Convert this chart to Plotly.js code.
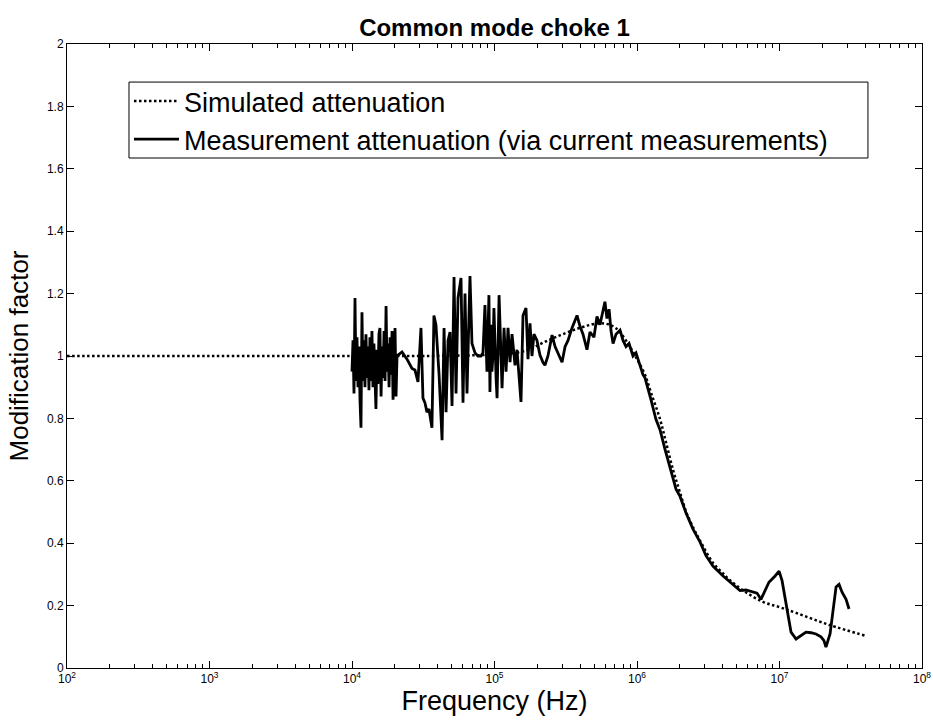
<!DOCTYPE html>
<html>
<head>
<meta charset="utf-8">
<script src="https://cdn.plot.ly/plotly-3.0.1.min.js"></script>
<style>html,body{margin:0;padding:0;background:#fff;}#chart{width:933px;height:724px;}</style>
</head>
<body>
<div id="chart"></div>
<script>
// Simulated attenuation: log10(frequency in Hz) and modification factor
const simLogF = [2.0, 3.0, 4.0, 4.5, 5.0, 5.2, 5.4, 5.6, 5.75, 5.85, 5.95, 6.0, 6.056, 6.1, 6.16, 6.2, 6.253, 6.3, 6.348, 6.4, 6.44, 6.535, 6.6, 6.65, 6.75, 6.884, 7.0, 7.12, 7.35, 7.607];
const simValue = [1.0, 1.0, 1.0, 1.0, 1.005, 1.015, 1.055, 1.09, 1.105, 1.09, 1.03, 0.99, 0.94, 0.88, 0.80, 0.73, 0.635, 0.565, 0.497, 0.445, 0.41, 0.336, 0.305, 0.282, 0.247, 0.212, 0.195, 0.176, 0.138, 0.103];

// Measured attenuation (via current measurements)
const measLogF = [4.000,4.007,4.014,4.021,4.028,4.035,4.042,4.049,4.056,4.063,4.070,4.077,4.084,4.091,4.098,4.105,4.112,4.119,4.126,4.133,4.140,4.147,4.154,4.161,4.168,4.175,4.182,4.189,4.196,4.204,4.211,4.218,4.225,4.232,4.239,4.246,4.253,4.260,4.267,4.274,4.281,4.288,4.295,4.302,4.309,4.316,
4.323,4.351,4.386,4.421,4.442,4.463,4.484,4.498,4.512,4.526,4.540,4.561,4.575,4.589,4.611,4.632,4.646,4.660,4.674,4.688,4.702,4.716,4.730,4.744,4.765,4.779,4.793,4.807,4.828,4.842,4.863,4.884,4.905,4.919,4.933,4.947,4.961,4.968,4.975,4.982,4.989,4.996,5.011,5.018,5.032,5.053,5.067,5.081,5.095,5.109,5.123,5.144,5.158,5.186,5.200,5.221,5.235,5.249,5.263,5.277,5.298,5.319,5.340,5.354,5.375,5.404,5.425,5.446,5.474,5.495,5.516,5.544,5.579,5.600,5.621,5.649,5.670,5.698,5.719,5.740,5.761,5.775,5.789,5.804,5.818,5.832,5.853,5.881,5.902,5.923,5.944,5.972,5.993,
6.021,6.042,6.056,6.077,6.098,6.133,6.162,6.197,6.232,6.274,6.302,6.344,6.393,6.442,6.484,6.533,6.604,6.674,6.723,6.765,6.807,6.842,6.870,6.898,6.926,6.969,6.997,7.018,7.046,7.067,7.081,7.116,7.151,7.186,7.221,7.256,7.291,7.312,7.326,7.340,7.355,7.369,7.383,7.397,7.418,7.439,7.467,7.488];
const measValue = [0.95,1.05,0.88,1.186,0.92,1.06,0.90,1.03,0.86,0.77,1.14,0.92,1.05,0.90,1.07,0.93,1.03,0.89,1.06,0.92,1.08,0.90,1.04,0.95,0.83,1.02,0.91,1.07,1.09,0.87,1.03,0.93,1.08,0.92,1.16,0.95,1.04,0.90,1.06,0.94,1.08,0.86,1.02,1.09,0.87,1.0,
1.003,1.013,0.99,0.96,0.955,0.917,1.09,0.865,0.85,0.82,0.83,0.77,1.13,1.10,0.94,0.73,1.09,0.82,1.05,1.077,0.84,1.253,0.88,1.186,1.25,0.85,1.2,0.88,1.256,1.04,1.01,1.0,1.0,1.01,1.163,0.95,1.195,0.885,1.10,0.95,1.0,1.154,0.93,0.865,1.195,0.897,1.09,0.95,1.09,0.98,1.07,0.97,1.02,0.853,1.13,1.154,0.99,1.105,1.0,1.07,1.05,1.003,0.98,0.97,1.0,1.067,1.03,1.01,0.98,1.03,1.05,1.09,1.13,1.095,1.07,1.02,1.077,1.06,1.127,1.10,1.14,1.174,1.12,1.15,1.08,1.04,1.07,1.083,1.05,1.03,1.04,1.0,1.01,
0.968,0.94,0.93,0.89,0.86,0.797,0.763,0.70,0.64,0.573,0.55,0.497,0.445,0.404,0.36,0.327,0.295,0.268,0.248,0.25,0.245,0.24,0.22,0.25,0.275,0.295,0.31,0.28,0.2,0.15,0.115,0.093,0.105,0.115,0.113,0.109,0.1,0.088,0.067,0.09,0.11,0.16,0.22,0.26,0.268,0.243,0.22,0.189];

const xTickVals = [1e2, 1e3, 1e4, 1e5, 1e6, 1e7, 1e8];
const xTickText = ['10<sup>2</sup>','10<sup>3</sup>','10<sup>4</sup>','10<sup>5</sup>','10<sup>6</sup>','10<sup>7</sup>','10<sup>8</sup>'];
const yTickVals = [0, 0.2, 0.4, 0.6, 0.8, 1, 1.2, 1.4, 1.6, 1.8, 2];
const yTickText = ['0','0.2','0.4','0.6','0.8','1','1.2','1.4','1.6','1.8','2'];

const toHz = a => a.map(v => Math.pow(10, v));

const traces = [
  {x: toHz(simLogF), y: simValue, type: 'scatter', mode: 'lines', name: 'Simulated attenuation',
   line: {color: '#000', width: 2.5, dash: '2.5px,2.5px', shape: 'spline'}},
  {x: toHz(measLogF), y: measValue, type: 'scatter', mode: 'lines', name: 'Measurement attenuation (via current measurements)',
   line: {color: '#000', width: 2.8}}
];

const fontFam = 'Liberation Sans, Arial, Helvetica, sans-serif';
const layout = {
  width: 933, height: 724,
  margin: {l: 67, r: 11, t: 44, b: 56},
  paper_bgcolor: '#fff', plot_bgcolor: '#fff',
  font: {family: fontFam, color: '#000'},
  title: {text: '<b>Common mode choke 1</b>', font: {size: 24, family: fontFam, color: '#000'}, x: 0.53, xanchor: 'center', y: 0.962, yanchor: 'middle'},
  xaxis: {
    type: 'log', range: [2, 8], tickvals: xTickVals, ticktext: xTickText,
    ticks: 'inside', ticklen: 7, tickcolor: '#000', tickwidth: 1,
    minor: {ticks: 'inside', ticklen: 4, tickcolor: '#000', dtick: 'D1'},
    showline: true, linecolor: '#000', linewidth: 1, mirror: 'ticks',
    showgrid: false, zeroline: false,
    tickfont: {size: 12, family: fontFam, color: '#000'},
    title: {text: 'Frequency (Hz)', font: {size: 27, family: fontFam, color: '#000'}, standoff: 4}
  },
  yaxis: {
    range: [0, 2], tickvals: yTickVals, ticktext: yTickText,
    ticks: 'inside', ticklen: 7, tickcolor: '#000', tickwidth: 1,
    showline: true, linecolor: '#000', linewidth: 1, mirror: 'ticks',
    showgrid: false, zeroline: false,
    tickfont: {size: 12, family: fontFam, color: '#000'},
    title: {text: 'Modification factor', font: {size: 26, family: fontFam, color: '#000'}, standoff: 10}
  },
  shapes: [{
    type: 'rect', xref: 'paper', yref: 'paper', layer: 'above',
    x0: 0.0725, x1: 0.9368, y0: 0.8173, y1: 0.939,
    line: {color: '#000', width: 1}, fillcolor: '#fff'
  }],
  showlegend: true,
  legend: {
    x: 0.0725, y: 0.947, xanchor: 'left', yanchor: 'top',
    bgcolor: 'rgba(0,0,0,0)', borderwidth: 0,
    font: {size: 27, family: fontFam, color: '#000'},
    itemwidth: 45, tracegroupgap: 0
  }
};

Plotly.newPlot('chart', traces, layout, {staticPlot: true, displayModeBar: false});
</script>
</body>
</html>
